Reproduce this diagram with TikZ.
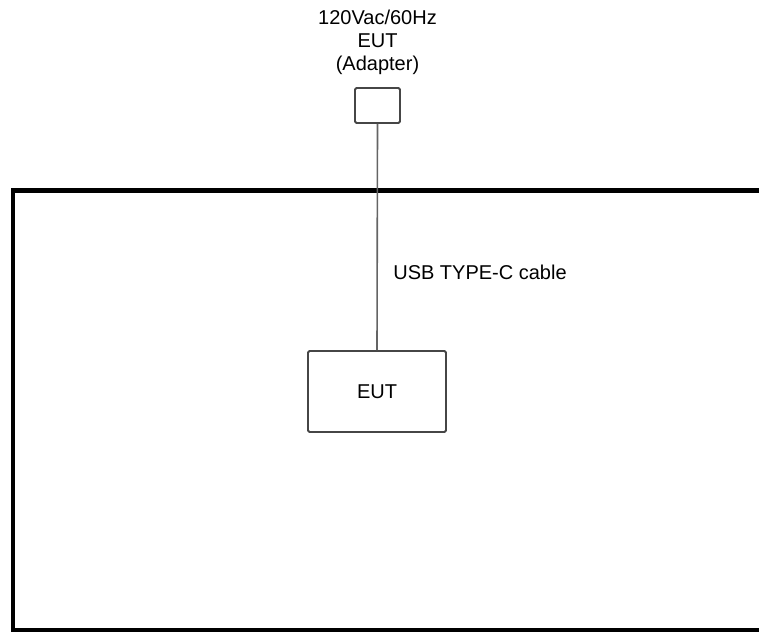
\documentclass[tikz,border=0pt]{standalone}
\usepackage{fontspec}
\setmainfont{Liberation Sans}
\usepackage{tikz}
\usetikzlibrary{positioning}
\definecolor{boxgray}{RGB}{70,70,70}
\definecolor{linegray}{RGB}{100,100,100}

\begin{document}
\begin{tikzpicture}[
 x=1pt,y=-1pt,
 every node/.style={font=\fontsize{20}{23}\selectfont},
 unitbox/.style={draw=boxgray,line width=1.8pt,rounded corners=1.5pt,inner sep=0pt},
 cable/.style={draw=linegray,line width=1.6pt},
 frameline/.style={draw=black,line width=4.6pt,line join=miter}
]
\useasboundingbox (0,0) rectangle (759,632);
% test site outline, open to the right
\draw[frameline] (775,190.5) -- (13,190.5) -- (13,630) -- (775,630);
\node[unitbox,minimum width=45pt,minimum height=35pt] (adapter) at (377.5,105.5) {};
\node[align=center,above=9pt of adapter] (adlabel) {120Vac/60Hz\\EUT\\(Adapter)};
\node[unitbox,minimum width=138pt,minimum height=81pt] (eut) at (377,391.5) {EUT};
\draw[cable] (adapter.south) -- (eut.north) node[pos=0.655,anchor=west,xshift=12pt] (cablelabel) {USB TYPE-C cable};
\end{tikzpicture}
\end{document}
